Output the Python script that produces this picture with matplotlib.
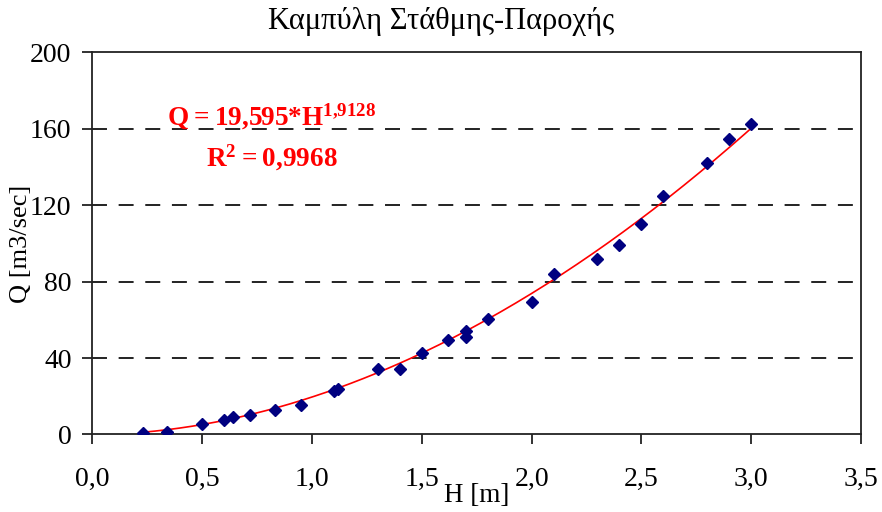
import matplotlib
matplotlib.use("Agg")
import matplotlib.pyplot as plt
import numpy as np

# measured stage (H) and discharge (Q) pairs
h_vals = [0.23, 0.34, 0.50, 0.60, 0.64, 0.72, 0.83, 0.95, 1.10, 1.12, 1.30, 1.40,
          1.50, 1.62, 1.70, 1.70, 1.80, 2.00, 2.10, 2.30, 2.40, 2.50, 2.60, 2.80,
          2.90, 3.00]
q_vals = [0.8, 1.5, 5.3, 7.6, 9.0, 10.2, 12.8, 15.4, 22.8, 23.7, 34.1, 34.5,
          42.8, 49.5, 54.2, 51.2, 60.3, 69.5, 84.0, 91.8, 99.1, 110.0, 124.8, 142.2,
          154.6, 162.3]

# power trendline from the chart
fit_a = 19.595
fit_b = 1.9128

x_ticks = [0.0, 0.5, 1.0, 1.5, 2.0, 2.5, 3.0, 3.5]
x_tick_labels = ["0,0", "0,5", "1,0", "1,5", "2,0", "2,5", "3,0", "3,5"]
y_ticks = [0, 40, 80, 120, 160, 200]

plt.rcParams['font.family'] = ['Liberation Serif', 'DejaVu Serif']
plt.rcParams['mathtext.fontset'] = 'custom'
plt.rcParams['mathtext.rm'] = 'Liberation Serif'
plt.rcParams['mathtext.bf'] = 'Liberation Serif:bold'

fig = plt.figure(figsize=(8.82, 5.12), dpi=100)
ax = fig.add_axes([0.1047, 0.1514, 0.8715, 0.7465])

# trendline
h_fit = np.linspace(min(h_vals), max(h_vals), 200)
ax.plot(h_fit, fit_a * h_fit ** fit_b, color='red', lw=1.2, zorder=2)

# data points
ax.plot(h_vals, q_vals, linestyle='none', marker='D', markersize=6.3,
        color='#000080', zorder=3)

ax.set_xlim(0, 3.5)
ax.set_ylim(0, 200)
ax.set_xticks(x_ticks)
ax.set_xticklabels(x_tick_labels)
ax.set_yticks(y_ticks)

for y in y_ticks[1:-1]:
    ax.axhline(y, color='#222222', lw=1.4, dashes=(7.7, 6.0), zorder=1)

for sp in ax.spines.values():
    sp.set_linewidth(1.3)
    sp.set_color('#222222')

ax.tick_params(axis='both', direction='out', length=7, width=1.3,
               labelsize=20, color='#222222')
ax.tick_params(axis='x', pad=16)
ax.tick_params(axis='y', pad=8)

fig.suptitle('Καμπύλη Στάθμης-Παροχής', fontsize=22, y=0.958, va='center')

ax.set_xlabel('H [m]', fontsize=19.5)
ax.xaxis.set_label_coords(0.5, -0.16)
ax.xaxis.label.set_va('center')
ax.set_ylabel('Q [m3/sec]', fontsize=19)
ax.yaxis.set_label_coords(-0.0925, 0.5)
ax.yaxis.label.set_va('center')

ax.text(0.233, 0.83, r'$\mathbf{Q = 19{,}595{*}H^{1{,}9128}}$', transform=ax.transAxes,
        color='red', fontsize=19.5, ha='center', va='center')
ax.text(0.234, 0.723, r'$\mathbf{R^2 = 0{,}9968}$', transform=ax.transAxes,
        color='red', fontsize=19.5, ha='center', va='center')

fig.savefig('out.png', dpi=100)
